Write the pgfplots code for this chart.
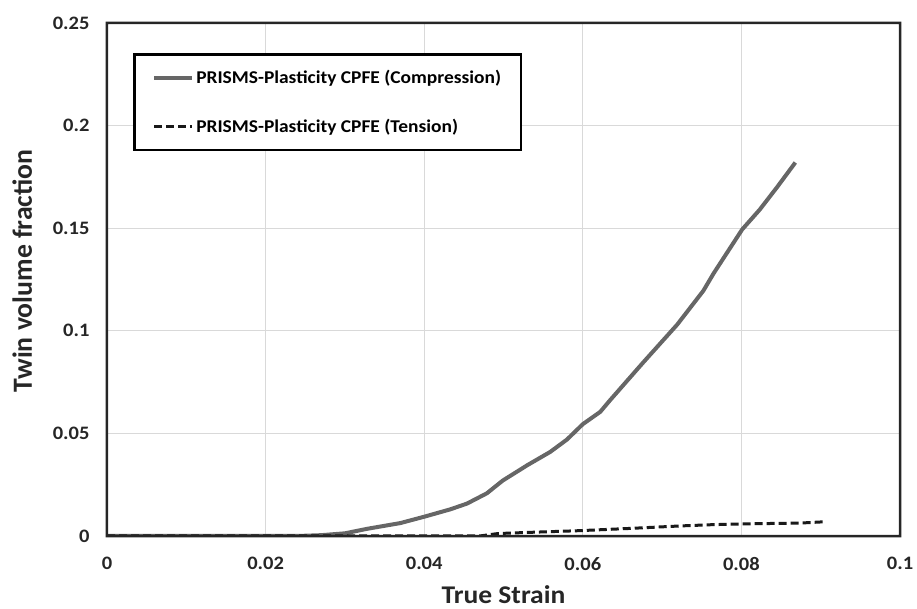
\documentclass[border=0pt]{standalone}
\usepackage{pgfplots}
\pgfplotsset{compat=1.18}
\usepackage{fontspec}
\setmainfont{Carlito}[FakeStretch=1.08]
\newfontfamily\vlabelfont{Carlito}

\definecolor{compgray}{RGB}{102,102,102}
\definecolor{gridgray}{RGB}{217,217,217}
\definecolor{framegray}{RGB}{38,38,38}

\begin{document}
\begin{tikzpicture}
\path[use as bounding box] (0pt,0pt) rectangle (917pt,609pt);
\begin{axis}[
  name=ax,
  at={(107pt,73pt)}, anchor=south west,
  scale only axis,
  width=793pt, height=513pt,
  xmin=0, xmax=0.1, ymin=0, ymax=0.25,
  xtick={0,0.02,...,0.1},
  ytick={0,0.05,...,0.25},
  major tick length=0pt,
  grid=major,
  major grid style={draw=gridgray, line width=1pt},
  axis line style={draw=framegray, line width=2.5pt},
  /pgf/number format/assume math mode=true,
  /pgf/number format/fixed,
  /pgf/number format/precision=2,
  ticklabel style={font=\bfseries\fontsize{19}{22}\selectfont, text=black!85},
  xticklabel style={yshift=-18pt},
  yticklabel style={xshift=-14pt},
  xlabel={True Strain},
  ylabel={Twin volume fraction},
  xlabel style={font=\bfseries\fontsize{25.5}{30}\selectfont, text=black!85,
    at={(axis description cs:0.5,-0.114)}, anchor=center},
  ylabel style={font=\vlabelfont\bfseries\fontsize{27.7}{33}\selectfont, text=black!85,
    at={(axis description cs:-0.107,0.5166)}, anchor=center},
  legend style={
    at={(rel axis cs:0.0328,0.9415)}, anchor=north west,
    draw=black, line width=2.5pt,
    font=\bfseries\fontsize{18}{21}\selectfont,
    inner xsep=18pt, inner ysep=14pt,
    row sep=30pt,
    /tikz/every even column/.append style={column sep=0pt},
  },
  legend cell align=left,
  legend image code/.code={\draw[#1] (0pt,0pt) -- (38pt,0pt);},
]
% twin volume fraction under compression
\addplot[compgray, line width=4pt, line join=round] coordinates {
  (0,0) (0.024,0) (0.027,0.0004) (0.030,0.0013) (0.0328,0.0035)
  (0.037,0.0063) (0.0401,0.0095) (0.0433,0.0130) (0.0454,0.0158)
  (0.0479,0.0208) (0.0499,0.0270) (0.053,0.0345) (0.0559,0.0410)
  (0.058,0.0470) (0.060,0.0545) (0.0622,0.0605) (0.0634,0.066)
  (0.0676,0.0845) (0.0719,0.103) (0.0752,0.1195) (0.0765,0.128)
  (0.0801,0.1494) (0.0823,0.159) (0.0845,0.170) (0.0868,0.182)
};
\addlegendentry{PRISMS-Plasticity CPFE (Compression)}
% twin volume fraction under tension
\addplot[black!90, line width=3pt, dash pattern=on 8pt off 4pt] coordinates {
  (0,0) (0.047,0) (0.0493,0.0012) (0.0535,0.0018) (0.0596,0.0026)
  (0.066,0.0037) (0.0723,0.0049) (0.0762,0.0055) (0.0802,0.0059)
  (0.0874,0.0063) (0.0903,0.0069)
};
\addlegendentry{PRISMS-Plasticity CPFE (Tension)}
\end{axis}
% plot-area frame as a filled ring (outer minus inner rectangle)
\fill[framegray, even odd rule]
  ([shift={(-1.4pt,-1.4pt)}]ax.south west) rectangle ([shift={(1.4pt,1.4pt)}]ax.north east)
  ([shift={(1.2pt,1.2pt)}]ax.south west) rectangle ([shift={(-1.2pt,-1.2pt)}]ax.north east);
\end{tikzpicture}
\end{document}
